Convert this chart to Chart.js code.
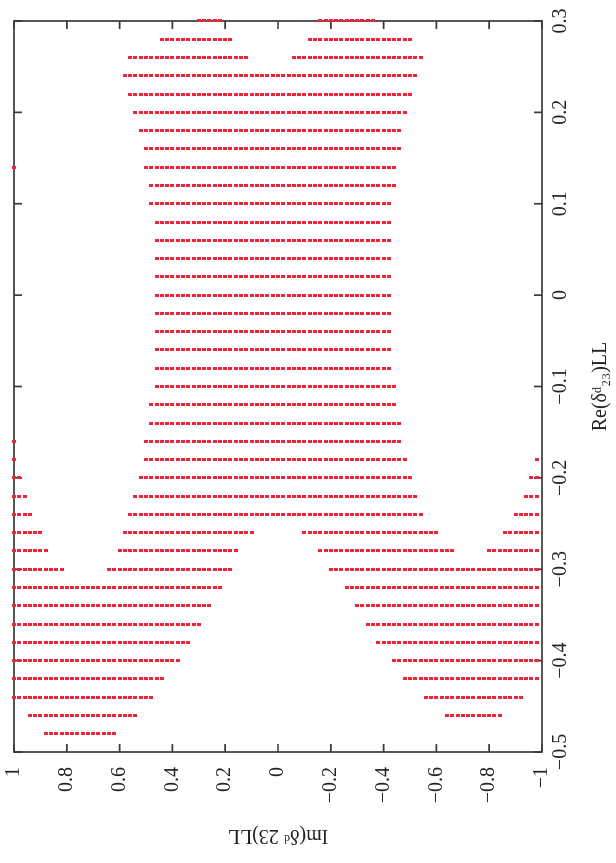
<!DOCTYPE html>
<html>
<head>
<meta charset="utf-8">
<script src="https://cdn.jsdelivr.net/npm/chart.js@4.4.0/dist/chart.umd.min.js"></script>
<style>
  html, body { margin: 0; padding: 0; background: #fff; overflow: hidden; width: 616px; height: 863px; }
  /* the plot is drawn landscape and turned a quarter turn anticlockwise */
  #wrap {
    position: absolute; left: 0; top: 0; width: 863px; height: 616px;
    transform-origin: 0 0;
    transform: translate(0, 863px) rotate(-90deg);
  }
</style>
</head>
<body>
<div id="wrap"><canvas id="scan" width="863" height="616"></canvas></div>
<script>
// Re(delta^d_23)_LL values of the scan rows
const reRows = [
   0.30,  0.28,  0.26,  0.24,  0.22,  0.20,  0.18,  0.16,  0.14,  0.12,
   0.10,  0.08,  0.06,  0.04,  0.02,  0.00, -0.02, -0.04, -0.06, -0.08,
  -0.10, -0.12, -0.14, -0.16, -0.18, -0.20, -0.22, -0.24, -0.26, -0.28,
  -0.30, -0.32, -0.34, -0.36, -0.38, -0.40, -0.42, -0.44, -0.46, -0.48
];

// allowed Im(delta^d_23)_LL ranges for each row, [from, to]
const imRanges = [
  [[0.30, 0.22], [-0.16, -0.36]],
  [[0.44, 0.18], [-0.12, -0.50]],
  [[0.56, 0.12], [-0.06, -0.54]],
  [[0.58, -0.52]],
  [[0.56, -0.50]],
  [[0.54, -0.48]],
  [[0.52, -0.46]],
  [[0.50, -0.46]],
  [[1.00, 1.00], [0.50, -0.44]],
  [[0.48, -0.44]],
  [[0.48, -0.42]],
  [[0.46, -0.42]],
  [[0.46, -0.42]],
  [[0.46, -0.42]],
  [[0.46, -0.42]],
  [[0.46, -0.42]],
  [[0.46, -0.42]],
  [[0.46, -0.42]],
  [[0.46, -0.42]],
  [[0.46, -0.42]],
  [[0.46, -0.44]],
  [[0.48, -0.44]],
  [[0.48, -0.46]],
  [[1.00, 1.00], [0.50, -0.46]],
  [[1.00, 1.00], [0.50, -0.48], [-0.98, -0.98]],
  [[1.00, 0.98], [0.52, -0.50], [-0.96, -0.98]],
  [[1.00, 0.96], [0.54, -0.52], [-0.94, -0.98]],
  [[1.00, 0.94], [0.56, -0.54], [-0.90, -0.98]],
  [[1.00, 0.90], [0.58, 0.10], [-0.10, -0.60], [-0.86, -0.98]],
  [[1.00, 0.88], [0.60, 0.16], [-0.16, -0.66], [-0.80, -0.98]],
  [[1.00, 0.82], [0.64, 0.18], [-0.20, -0.98]],
  [[1.00, 0.22], [-0.26, -0.98]],
  [[1.00, 0.26], [-0.30, -0.98]],
  [[1.00, 0.30], [-0.34, -0.98]],
  [[1.00, 0.34], [-0.38, -0.98]],
  [[1.00, 0.38], [-0.44, -0.98]],
  [[1.00, 0.44], [-0.48, -0.98]],
  [[1.00, 0.48], [-0.56, -0.92]],
  [[0.94, 0.54], [-0.64, -0.84]],
  [[0.88, 0.62]]
];

// scan grid spacing along Im
const imStep = 0.02;

const reTicks = [-0.5, -0.4, -0.3, -0.2, -0.1, 0, 0.1, 0.2, 0.3];
const imTicks = [-1, -0.8, -0.6, -0.4, -0.2, 0, 0.2, 0.4, 0.6, 0.8, 1];

const xTitle = 'Re(δᵈ₂₃)LL';
const yTitle = 'Im(δᵈ 23)LL';

// expand every range into its grid points
const points = [];
reRows.forEach((re, i) => {
  imRanges[i].forEach(([from, to]) => {
    const n = Math.round((from - to) / imStep);
    for (let k = 0; k <= n; k++) {
      points.push({ x: re, y: +(from - k * imStep).toFixed(2) });
    }
  });
});

const fmt = (v) => {
  const r = Math.round(v * 10) / 10;
  return r < 0 ? '\u2212' + Math.abs(r) : String(r);
};

// small red block used as the point marker
const dot = document.createElement('canvas');
dot.width = 3;
dot.height = 4;
const dctx = dot.getContext('2d');
dctx.fillStyle = 'rgb(238, 36, 56)';
dctx.fillRect(0, 0, 3, 4);

// box with inward ticks on all four sides
const gnuplotFrame = {
  id: 'gnuplotFrame',
  beforeDatasetsDraw(chart) {
    const { ctx, chartArea: a, scales: { x, y } } = chart;
    const len = 8;
    ctx.save();
    ctx.strokeStyle = '#3a3a3a';
    ctx.lineWidth = 1.7;
    ctx.strokeRect(a.left, a.top, a.right - a.left, a.bottom - a.top);
    ctx.beginPath();
    x.ticks.forEach((t, i) => {
      const px = x.getPixelForTick(i);
      ctx.moveTo(px, a.bottom); ctx.lineTo(px, a.bottom - len);
      ctx.moveTo(px, a.top); ctx.lineTo(px, a.top + len);
    });
    y.ticks.forEach((t, i) => {
      const py = y.getPixelForTick(i);
      ctx.moveTo(a.left, py); ctx.lineTo(a.left + len, py);
      ctx.moveTo(a.right, py); ctx.lineTo(a.right - len, py);
    });
    ctx.stroke();
    ctx.restore();
  }
};

const serif = { family: '"Liberation Serif", "DejaVu Serif", serif', size: 20 };

new Chart(document.getElementById('scan'), {
  type: 'scatter',
  data: {
    datasets: [{
      data: points,
      pointStyle: dot,
      pointRadius: 2,
      clip: false
    }]
  },
  options: {
    responsive: false,
    devicePixelRatio: 1,
    animation: false,
    events: [],
    layout: { padding: { top: 14, right: 21, bottom: 0, left: 0 } },
    plugins: { legend: { display: false }, tooltip: { enabled: false } },
    scales: {
      x: {
        type: 'linear',
        min: -0.5,
        max: 0.3,
        afterBuildTicks: (scale) => { scale.ticks = reTicks.map(v => ({ value: v })); },
        afterFit: (scale) => {
          scale.height = 74;
          scale.paddingLeft = 0;
          scale.paddingRight = 0;
        },
        grid: { display: false, drawTicks: false },
        border: { display: false },
        ticks: { font: serif, color: '#222', padding: 7, maxRotation: 0, callback: fmt },
        title: { display: true, text: xTitle, font: serif, color: '#222', padding: { top: 0, bottom: 3 } }
      },
      y: {
        type: 'linear',
        min: -1,
        max: 1,
        afterBuildTicks: (scale) => { scale.ticks = imTicks.map(v => ({ value: v })); },
        afterFit: (scale) => {
          scale.width = 111;
          scale.paddingTop = 0;
          scale.paddingBottom = 0;
        },
        grid: { display: false, drawTicks: false },
        border: { display: false },
        ticks: { font: serif, color: '#222', padding: 15, callback: fmt },
        title: { display: true, text: yTitle, font: serif, color: '#222', padding: { top: 16, bottom: 0 } }
      }
    }
  },
  plugins: [gnuplotFrame]
});
</script>
</body>
</html>
